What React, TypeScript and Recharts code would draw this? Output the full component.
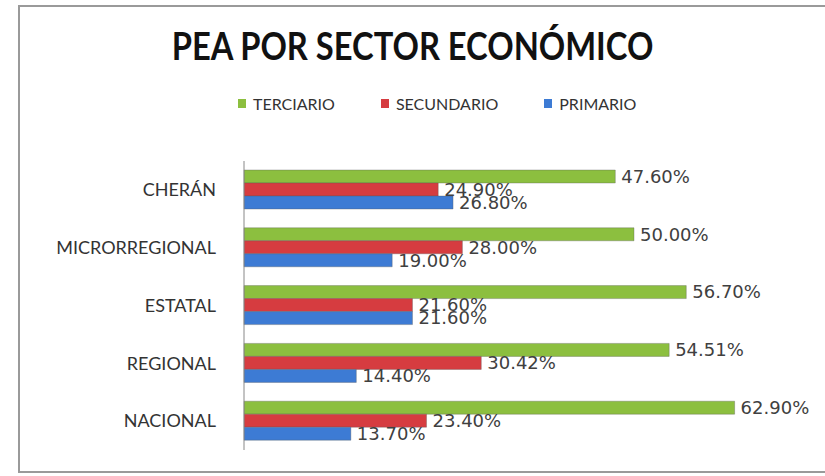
import { BarChart, Bar, XAxis, YAxis, LabelList } from 'recharts';

const regions = ['CHERÁN', 'MICRORREGIONAL', 'ESTATAL', 'REGIONAL', 'NACIONAL'];
const terciario = [47.6, 50.0, 56.7, 54.51, 62.9];
const secundario = [24.9, 28.0, 21.6, 30.42, 23.4];
const primario = [26.8, 19.0, 21.6, 14.4, 13.7];

const series = [
  { key: 'terciario', name: 'TERCIARIO', color: '#8cbf3f' },
  { key: 'secundario', name: 'SECUNDARIO', color: '#d63c40' },
  { key: 'primario', name: 'PRIMARIO', color: '#3d7bd4' },
];

const data = regions.map((region, i) => ({
  region,
  terciario: terciario[i],
  secundario: secundario[i],
  primario: primario[i],
}));

const font = 'Lato, "Open Sans", sans-serif';
const pct = (v: any) => `${Number(v).toFixed(2)}%`;

// legend sits outside the chart so it doesn't push the plot area down
function LegendRow() {
  return (
    <div style={{ display: 'flex', gap: 46, fontFamily: font, fontSize: 16, color: '#333' }}>
      {series.map((s) => (
        <div key={s.key} style={{ display: 'flex', alignItems: 'center', gap: 7 }}>
          <span style={{ width: 8, height: 9, background: s.color, display: 'inline-block' }} />
          <span>{s.name}</span>
        </div>
      ))}
    </div>
  );
}

export default function App() {
  return (
    <div style={{ position: 'absolute', left: 0, top: 0, width: 825, height: 476, background: '#fff', overflow: 'hidden' }}>
      <div
        style={{
          position: 'absolute',
          left: 18,
          top: 5,
          width: 830,
          height: 468,
          border: '2px solid #9a9a9a',
          boxSizing: 'border-box',
        }}
      />
      <div
        style={{
          position: 'absolute',
          left: 0,
          top: 22,
          width: 825,
          textAlign: 'center',
          fontFamily: font,
          fontWeight: 700,
          fontSize: 38,
          color: '#111',
          transform: 'scaleX(0.86)',
        }}
      >
        PEA POR SECTOR ECONÓMICO
      </div>
      <div style={{ position: 'absolute', left: 238, top: 94 }}>
        <LegendRow />
      </div>
      <div style={{ position: 'absolute', left: 0, top: 0 }}>
        <BarChart
          width={825}
          height={476}
          data={data}
          layout="vertical"
          margin={{ top: 161, right: 35, bottom: 26, left: 0 }}
          barGap={0}
          barSize={13}
        >
          <XAxis type="number" domain={[0, 70]} hide />
          <YAxis
            type="category"
            dataKey="region"
            width={244}
            axisLine={{ stroke: '#888' }}
            tickLine={false}
            tickMargin={22}
            tick={{ fill: '#333', fontSize: 18, fontFamily: font }}
          />
          {series.map((s) => (
            <Bar
              key={s.key}
              dataKey={s.key}
              name={s.name}
              fill={s.color}
              stroke="#5a5a5a"
              strokeOpacity={0.35}
              isAnimationActive={false}
            >
              <LabelList
                dataKey={s.key}
                position="right"
                offset={6}
                formatter={pct}
                style={{ fill: '#404040', fontSize: 18, fontFamily: '"DejaVu Sans", sans-serif' }}
              />
            </Bar>
          ))}
        </BarChart>
      </div>
    </div>
  );
}
